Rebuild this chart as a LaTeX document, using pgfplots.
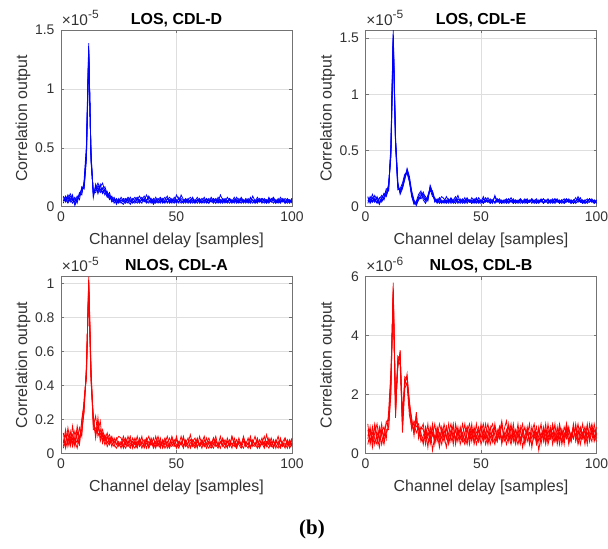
\documentclass[border=0pt]{standalone}
\usepackage{pgfplots}
\pgfplotsset{compat=1.18}
\usepackage{pgfplotstable}
\usepackage{fontspec}
\setmainfont{Liberation Sans}
\newfontfamily\seriffont{Liberation Serif}
\definecolor{mblue}{rgb}{0,0,1}
\definecolor{mred}{rgb}{1,0,0}
\definecolor{tickgray}{gray}{0.2}
\definecolor{axgray}{gray}{0.45}

\pgfplotstableread{
x a b c d e
1 5 8 3 6 9
2 8 4 9 5 6
3 4 10 6 8 3
4 9 6 11 4 7
5 6 3 7 10 5
6 2 7 4 1 8
7 7 5 9 6 3
8 10 12 6 9 11
9 14 10 17 12 15
10 18 22 15 20 16
11 45 52 40 48 43
12 132 139 128 135 130
13 42 38 46 40 44
14 10 13 8 12 9
15 17 12 19 14 16
16 13 18 11 16 20
17 19 14 17 12 15
18 12 16 20 15 11
19 15 10 13 17 14
20 9 13 8 11 12
21 12 7 10 6 9
22 5 9 4 8 6
23 7 3 6 5 8
24 4 6 3 7 2
25 5 3 7 4 6
26 3 6 4 8 5
27 6 4 2 5 7
28 4 7 5 3 6
29 7 5 8 6 3
30 5 2 6 4 8
31 3 6 4 7 5
32 6 8 3 5 4
33 8 5 6 3 7
34 4 3 9 6 5
35 6 7 5 8 3
36 9 4 6 5 7
37 5 6 3 10 4
38 3 8 5 6 9
39 7 5 4 3 6
40 4 3 7 5 2
41 6 5 3 8 5
42 5 7 6 4 3
43 3 4 8 6 7
44 7 6 5 3 4
45 4 8 3 5 6
46 6 3 7 4 9
47 8 5 4 6 3
48 5 7 6 3 5
49 3 4 5 8 6
50 6 10 3 5 4
51 4 6 8 3 7
52 7 3 5 10 5
53 5 5 4 6 3
54 3 7 6 4 6
55 6 4 3 7 5
56 8 6 5 3 4
57 5 3 7 5 8
58 3 5 4 6 3
59 6 8 6 3 5
60 4 5 3 7 6
61 7 3 5 4 4
62 5 6 8 5 3
63 3 4 4 6 7
64 6 7 3 3 5
65 4 5 6 8 4
66 7 3 4 5 6
67 5 6 7 3 3
68 3 4 5 6 8
69 6 10 3 4 5
70 4 6 6 7 3
71 7 3 4 5 6
72 5 5 8 3 4
73 3 7 5 6 7
74 6 4 3 4 5
75 4 6 6 8 3
76 8 3 4 5 6
77 5 5 7 3 4
78 3 7 5 6 8
79 6 4 3 4 5
80 4 6 6 7 3
81 7 3 4 5 6
82 5 8 7 3 4
83 3 5 5 6 9
84 6 3 3 4 5
85 4 6 6 8 3
86 7 4 4 5 6
87 5 7 7 3 4
88 3 5 5 6 7
89 6 3 3 4 5
90 4 6 8 7 3
91 7 4 4 5 6
92 5 7 6 3 8
93 3 5 3 6 4
94 6 3 7 4 5
95 4 6 4 8 3
96 7 4 6 5 6
97 5 7 3 3 4
98 3 5 5 6 7
99 6 3 4 4 5
100 4 6 7 7 3
}\tD

\pgfplotstableread{
x a b c d e
1 6 3 8 5 9
2 4 9 5 7 3
3 8 5 11 4 6
4 5 7 6 10 4
5 9 4 3 6 8
6 3 8 7 2 5
7 7 5 10 8 4
8 12 9 6 11 8
9 10 14 12 9 16
10 18 15 20 16 14
11 48 55 44 52 50
12 150 157 146 153 148
13 58 62 55 60 57
14 18 22 15 20 17
15 14 11 16 12 15
16 19 16 21 18 17
17 27 24 29 26 25
18 32 34 30 33 31
19 24 27 22 25 23
20 11 14 9 12 10
21 4 6 2 5 3
22 3 2 5 1 4
23 9 6 11 7 8
24 12 9 14 10 7
25 8 13 6 11 10
26 5 7 3 9 6
27 10 6 8 5 9
28 17 19 15 18 16
29 11 13 9 12 14
30 6 4 8 5 7
31 5 7 3 6 4
32 8 4 6 3 7
33 4 6 9 5 3
34 5 3 7 4 6
35 3 6 4 9 5
36 7 4 6 5 3
37 4 8 3 6 7
38 6 5 5 3 4
39 9 3 7 5 6
40 5 7 4 10 3
41 3 5 6 4 7
42 6 4 3 7 5
43 4 8 5 5 3
44 7 3 8 4 6
45 5 6 4 6 4
46 3 4 6 3 8
47 6 7 3 5 5
48 4 5 7 8 3
49 8 3 4 4 6
50 5 6 6 3 4
51 3 4 3 7 9
52 6 8 5 5 4
53 4 5 8 4 6
54 7 3 4 6 3
55 5 6 6 3 5
56 9 4 3 10 4
57 4 7 5 5 7
58 6 5 7 4 3
59 3 3 4 6 5
60 5 6 6 3 4
61 7 4 3 5 6
62 4 7 5 7 3
63 6 5 8 4 5
64 3 3 4 6 7
65 5 6 6 3 4
66 4 4 3 5 6
67 6 7 5 7 3
68 3 5 4 4 5
69 5 3 6 6 7
70 7 6 3 3 4
71 4 4 5 5 6
72 6 7 7 4 3
73 3 5 4 6 5
74 5 3 6 3 7
75 4 6 3 5 4
76 6 4 5 7 6
77 3 7 7 4 3
78 5 5 4 6 5
79 7 3 6 3 4
80 4 6 3 5 6
81 6 4 5 7 3
82 3 7 7 4 5
83 5 5 4 6 7
84 4 3 6 3 4
85 6 6 3 5 6
86 3 4 5 7 3
87 5 7 7 4 5
88 7 5 4 6 4
89 4 3 6 3 6
90 6 6 3 5 3
91 3 4 5 8 5
92 5 9 7 4 7
93 8 5 4 6 4
94 4 3 6 3 6
95 6 6 3 5 3
96 3 4 5 7 5
97 5 7 7 4 7
98 7 5 4 6 4
99 4 3 6 3 6
100 6 6 3 5 3
}\tE

\pgfplotstableread{
x a b c d e
1 8 4 12 6 3
2 5 11 3 14 7
3 15 6 9 4 12
4 7 13 5 10 4
5 11 4 16 6 9
6 4 9 7 13 5
7 13 6 3 8 16
8 6 15 10 5 9
9 19 10 14 20 12
10 28 32 24 30 26
11 48 44 52 46 50
12 100 104 96 102 98
13 46 50 42 48 44
14 20 16 22 14 18
15 12 22 9 15 11
16 18 10 21 13 16
17 9 14 7 19 11
18 12 8 11 6 14
19 7 11 5 10 8
20 10 6 9 4 12
21 5 9 11 7 6
22 8 4 6 10 9
23 6 9 4 5 7
24 9 5 8 3 6
25 4 7 10 6 5
26 6 3 9 5 7
27 4 8 5 10 3
28 9 5 3 6 8
29 5 10 7 4 6
30 3 6 4 8 10
31 7 4 9 5 3
32 5 9 6 3 7
33 10 5 3 7 4
34 4 7 8 5 9
35 6 3 5 10 6
36 8 6 4 3 5
37 3 9 7 6 8
38 7 4 10 4 3
39 5 8 5 9 6
40 9 3 6 5 4
41 4 6 3 7 10
42 6 10 8 4 5
43 3 5 4 9 7
44 8 7 6 3 4
45 5 3 9 6 8
46 7 6 5 10 3
47 4 9 3 5 6
48 10 5 7 4 9
49 6 4 5 8 5
50 3 8 10 5 4
51 7 5 4 3 7
52 5 10 6 7 5
53 9 4 3 5 10
54 4 7 8 6 4
55 6 3 5 9 6
56 11 6 4 3 8
57 5 8 7 6 4
58 3 5 9 4 7
59 7 9 4 8 3
60 5 4 6 5 10
61 8 6 3 7 5
62 4 10 8 4 6
63 6 5 5 9 3
64 9 3 7 5 7
65 5 7 4 3 5
66 3 5 9 6 9
67 7 8 5 10 4
68 5 4 3 4 6
69 10 6 7 7 3
70 4 9 5 5 8
71 6 5 8 3 5
72 3 7 4 9 7
73 8 4 6 5 4
74 5 10 3 6 10
75 7 5 9 4 6
76 4 3 5 8 3
77 9 7 7 5 7
78 5 5 4 3 5
79 3 9 10 7 9
80 7 4 5 5 4
81 5 6 3 9 6
82 10 3 8 4 3
83 4 8 5 6 7
84 6 5 4 10 5
85 3 9 7 5 8
86 8 4 5 3 4
87 5 6 9 7 6
88 7 10 4 5 3
89 4 5 6 11 7
90 9 3 8 5 5
91 5 7 4 4 9
92 3 4 7 8 4
93 7 8 5 3 6
94 5 5 3 7 10
95 9 3 8 5 4
96 4 7 5 4 6
97 6 9 4 9 3
98 3 5 7 5 8
99 8 4 3 7 5
100 5 8 6 4 9
}\tA

\pgfplotstableread{
x a b c d e
1 3 8 5 10 6
2 7 4 9 3 8
3 5 9 2 7 4
4 9 3 7 5 10
5 4 7 10 3 6
6 8 5 4 9 2
7 3 10 7 6 8
8 7 4 9 3 5
9 10 7 5 8 11
10 12 9 14 8 11
11 24 20 28 22 26
12 55 58 52 56 54
13 14 12 18 13 16
14 31 33 29 32 30
15 34 32 35 30 33
16 9 12 7 10 14
17 24 26 22 25 23
18 26 25 24 23 27
19 18 15 17 13 16
20 10 8 12 9 11
21 8 11 6 10 7
22 13 9 14 7 11
23 6 10 5 9 8
24 9 5 8 4 7
25 8 4 10 6 3
26 5 9 3 8 7
27 10 6 7 2 5
28 3 8 5 9 4
29 7 1 9 6 10
30 4 6 3 10 5
31 9 5 8 4 7
32 6 10 4 7 2
33 3 7 9 5 8
34 8 4 6 10 5
35 5 9 2 6 9
36 10 5 7 3 4
37 4 8 10 7 6
38 7 3 5 9 10
39 5 10 8 4 3
40 9 6 4 7 8
41 3 8 9 5 5
42 6 4 5 10 7
43 10 7 3 6 4
44 4 9 7 3 9
45 7 3 10 8 5
46 5 8 6 4 10
47 8 5 4 9 3
48 3 10 7 5 6
49 6 4 9 8 4
50 9 7 5 3 10
51 4 10 8 6 5
52 7 5 3 10 7
53 10 8 6 4 3
54 5 3 9 7 8
55 8 6 4 5 10
56 4 9 10 3 6
57 6 4 5 8 4
58 9 7 7 5 9
59 3 11 4 10 5
60 7 5 8 4 7
61 5 8 11 6 3
62 10 4 6 9 6
63 4 9 3 5 10
64 8 6 7 10 4
65 6 3 5 4 8
66 3 8 10 7 5
67 7 5 4 3 9
68 10 7 8 6 2
69 4 3 5 9 6
70 8 9 6 4 8
71 5 4 10 7 3
72 3 7 2 5 9
73 6 10 7 8 5
74 9 5 4 3 7
75 4 8 9 6 1
76 7 3 5 10 6
77 5 9 7 4 8
78 10 6 3 8 4
79 3 4 8 5 10
80 6 8 5 9 5
81 9 5 10 3 7
82 4 10 6 7 4
83 7 3 4 5 9
84 5 7 9 10 3
85 8 4 3 6 8
86 3 9 7 4 5
87 10 6 5 8 10
88 4 8 9 3 6
89 7 5 4 7 4
90 5 10 8 5 9
91 9 4 6 10 5
92 3 7 10 4 8
93 6 9 5 8 3
94 10 5 7 6 7
95 4 8 3 9 5
96 7 3 9 5 10
97 5 10 6 7 4
98 9 6 4 10 8
99 4 8 10 5 6
100 7 5 6 9 4
}\tB

\pgfplotsset{
  panel/.style={
    scale only axis, width=231bp, height=176.6bp, anchor=south west,
    xmin=0, xmax=100, ymin=0, clip mode=individual,
    xtick={0,50,100}, xticklabels={0,50,100},
    grid=major, major grid style={black!13, line width=0.5pt},
    axis line style={axgray, line width=0.6pt},
    tick style={axgray, line width=0.5pt},
    tick align=inside, major tick length=3bp, tick pos=both,
    ticklabel style={font=\fontsize{14}{16}\selectfont, text=tickgray},
    xticklabel style={yshift=-2bp},
    yticklabel style={xshift=-3bp},
    label style={font=\fontsize{16}{18}\selectfont, text=tickgray},
    xlabel={Channel delay [samples]}, ylabel={Correlation output},
    xlabel style={at={(axis description cs:0.5,-0.192)}, anchor=center},
    ylabel style={at={(axis description cs:-0.165,0.5)}, anchor=center},
    title style={font=\fontsize{16}{18}\selectfont\bfseries, text=black, at={(axis description cs:0.5,1.023)}, anchor=center, yshift=0pt},
  },
  bl/.style={mblue, line width=0.8pt},
  rd/.style={mred, line width=0.8pt},
}
\newcommand{\expo}[1]{\node[anchor=south west, inner sep=0pt, text=tickgray, font=\fontsize{15.5}{17}\selectfont] at (axis description cs:0.003,1.025) {×10\raisebox{0.42em}{\fontsize{12}{13}\selectfont #1}};}

\begin{document}
\begin{tikzpicture}
\path[use as bounding box] (0,0) rectangle (608bp,549bp);

\begin{axis}[panel, at={(61bp,342.3bp)}, title={LOS, CDL-D},
  ymax=150, ytick={0,50,100,150}, yticklabels={0,0.5,1,1.5}]
\foreach \c in {a,b,c,d,e} {\addplot[bl] table[x=x,y=\c] {\tD};}
\expo{-5}
\end{axis}

\begin{axis}[panel, at={(365.5bp,342.3bp)}, title={LOS, CDL-E},
  ymax=157, ytick={0,50,100,150}, yticklabels={0,0.5,1,1.5}]
\foreach \c in {a,b,c,d,e} {\addplot[bl] table[x=x,y=\c] {\tE};}
\expo{-5}
\end{axis}

\begin{axis}[panel, at={(61bp,95.7bp)}, title={NLOS, CDL-A},
  ymax=104, ytick={0,20,40,60,80,100}, yticklabels={0,0.2,0.4,0.6,0.8,1}]
\foreach \c in {a,b,c,d,e} {\addplot[rd] table[x=x,y=\c] {\tA};}
\expo{-5}
\end{axis}

\begin{axis}[panel, at={(365.5bp,95.7bp)}, title={NLOS, CDL-B},
  ymax=60, ytick={0,20,40,60}, yticklabels={0,2,4,6}]
\foreach \c in {a,b,c,d,e} {\addplot[rd] table[x=x,y=\c] {\tB};}
\expo{-6}
\end{axis}

\node[font=\seriffont\bfseries\fontsize{21}{24}\selectfont] at (312bp,20bp) {(b)};
\end{tikzpicture}
\end{document}
